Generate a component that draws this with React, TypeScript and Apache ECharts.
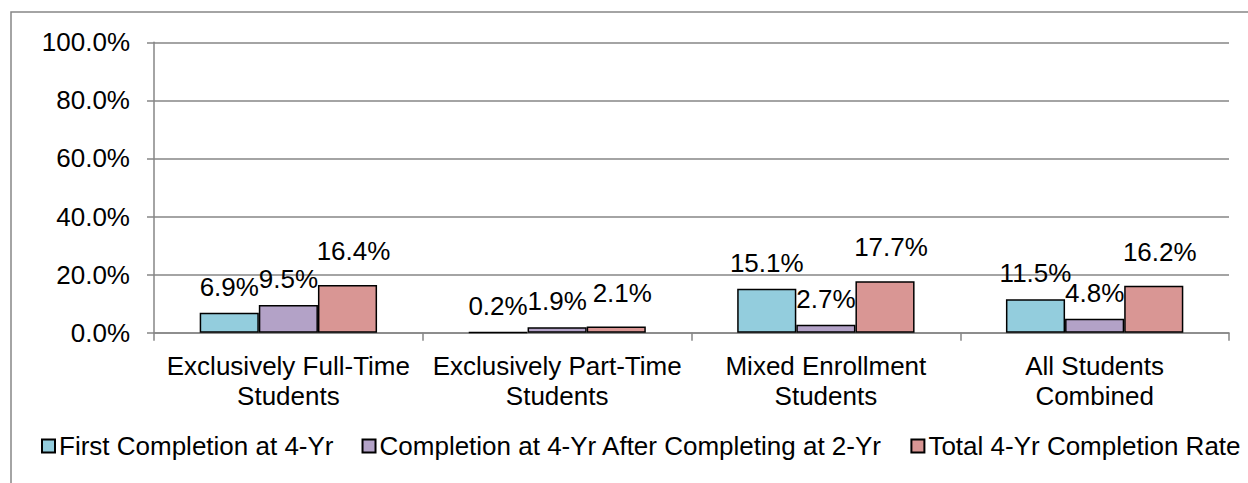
import React, { useEffect, useRef } from "react";
import * as echarts from "echarts";

const categories = [
  "Exclusively Full-Time\nStudents",
  "Exclusively Part-Time\nStudents",
  "Mixed Enrollment\nStudents",
  "All Students\nCombined",
];
const seriesNames = [
  "First Completion at 4-Yr",
  "Completion at 4-Yr After Completing at 2-Yr",
  "Total 4-Yr Completion Rate",
];
const firstCompletion = [6.9, 0.2, 15.1, 11.5];
const afterTwoYear = [9.5, 1.9, 2.7, 4.8];
const totalRate = [16.4, 2.1, 17.7, 16.2];
const yTicks = [0, 20, 40, 60, 80, 100];

const FONT = '"Liberation Sans", Arial, sans-serif';
const colors = ["#93CDDD", "#B3A2C7", "#D99694"];
const seriesData = [firstCompletion, afterTwoYear, totalRate];
const labelDistance = [13, 13, 21];
const labelShiftX = [0, 0, 6];

export default function App() {
  const ref = useRef<HTMLDivElement>(null);
  useEffect(() => {
    if (!ref.current) return;
    const chart = echarts.init(ref.current, null, { renderer: "svg" });
    chart.setOption({
      animation: false,
      backgroundColor: "#ffffff",
      textStyle: { fontFamily: FONT, color: "#000" },
      graphic: [
        {
          type: "rect",
          shape: { x: 11, y: 12, width: 1300, height: 600 },
          style: { fill: "none", stroke: "#868686", lineWidth: 1.5 },
          silent: true,
        },
      ],
      grid: { left: 154, right: 19, top: 42.3, bottom: 150.3, containLabel: false },
      legend: {
        left: 36,
        top: 428,
        itemWidth: 13,
        itemHeight: 13,
        itemGap: 28,
        icon: "rect",
        textStyle: { fontFamily: FONT, fontSize: 26, color: "#000", padding: [0, 0, 0, -1] },
        data: seriesNames,
      },
      xAxis: {
        type: "category",
        data: categories,
        boundaryGap: true,
        axisLine: { show: true, lineStyle: { color: "#868686", width: 1.5 } },
        axisTick: { show: true, alignWithLabel: false, length: 8, lineStyle: { color: "#868686", width: 1.5 } },
        axisLabel: {
          margin: 18,
          fontSize: 26,
          lineHeight: 30,
          color: "#000",
          fontFamily: FONT,
          interval: 0,
        },
      },
      yAxis: {
        type: "value",
        min: yTicks[0],
        max: yTicks[yTicks.length - 1],
        interval: yTicks[1] - yTicks[0],
        axisLine: { show: true, lineStyle: { color: "#868686", width: 1.5 } },
        axisTick: { show: true, length: 7, lineStyle: { color: "#868686", width: 1.5 } },
        splitLine: { show: true, lineStyle: { color: "#868686", width: 1.5 } },
        axisLabel: {
          margin: 24,
          fontSize: 26,
          color: "#000",
          fontFamily: FONT,
          formatter: (v: number) => v.toFixed(1) + "%",
        },
      },
      series: seriesNames.map((name, i) => ({
        name,
        type: "bar",
        data: seriesData[i],
        barGap: "0%",
        barCategoryGap: "34%",
        itemStyle: { color: colors[i], borderColor: "#000", borderWidth: 1.5 },
        label: {
          show: true,
          position: "top",
          distance: labelDistance[i],
          offset: [labelShiftX[i], 0],
          fontSize: 26,
          color: "#000",
          fontFamily: FONT,
          formatter: (p: any) => Number(p.value).toFixed(1) + "%",
        },
      })),
    });
    return () => chart.dispose();
  }, []);
  return (
    <div
      ref={ref}
      style={{ position: "fixed", left: 0, top: 0, width: 1248, height: 483 }}
    />
  );
}
